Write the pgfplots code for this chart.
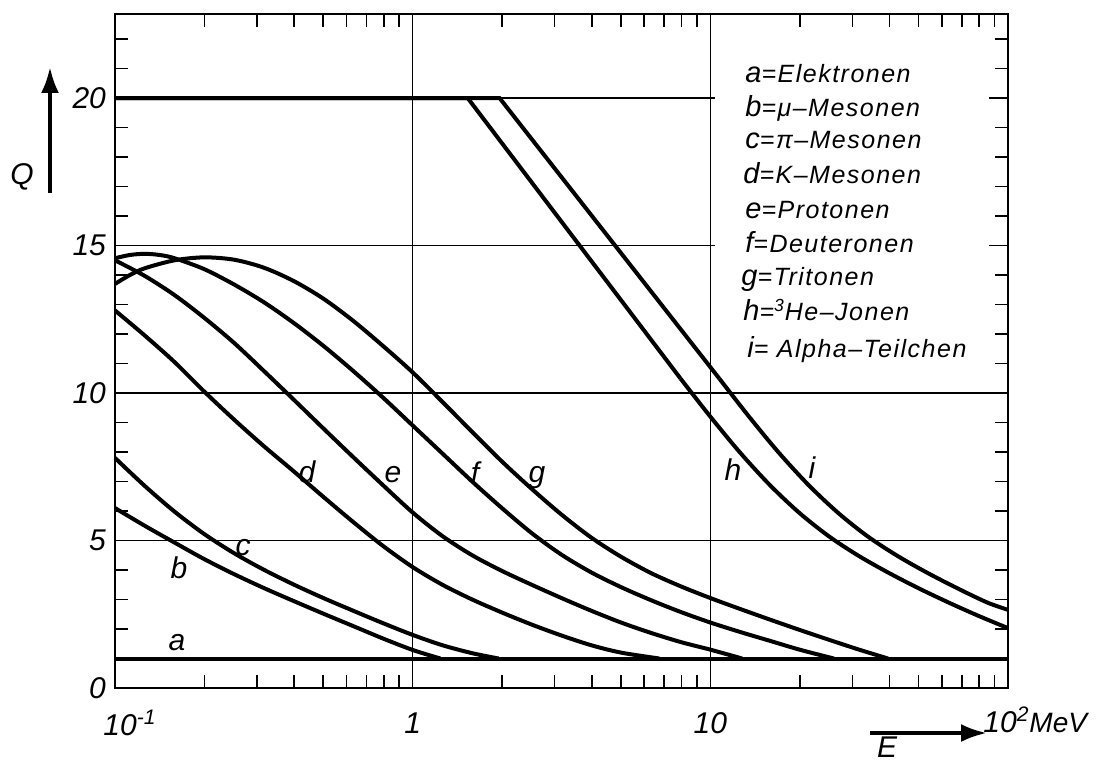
\documentclass[border=0pt]{standalone}
\usepackage{fontspec}
\setmainfont{Liberation Sans}
\newfontfamily\legfont[LetterSpace=6]{Liberation Sans}
\usepackage{pgfplots}
\pgfplotsset{compat=1.18}
\usetikzlibrary{arrows.meta}
\begin{document}
\begin{tikzpicture}[x=1pt,y=1pt]
\begin{axis}[
  at={(0,0)}, anchor=south west,
  scale only axis,
  width=446.5pt, height=337pt,
  xmode=log, log basis x=10,
  xmin=0.1, xmax=100, ymin=0, ymax=22.85,
  xtick={0.1,1,10,100},
  xticklabels={{},1,10,{}},
  minor xtick={0.2,0.3,0.4,0.5,0.6,0.7,0.8,0.9,2,3,4,5,6,7,8,9,20,30,40,50,60,70,80,90},
  ytick={0,5,10,15,20},
  minor ytick={0,1,...,22},
  grid=major,
  major grid style={black, line width=0.6pt},
  tick align=inside,
  major tick length=6.5pt, minor tick length=6.5pt,
  every tick/.append style={black, line width=0.8pt},
  axis line style={line width=1.2pt},
  /pgf/number format/assume math mode=true,
  ticklabel style={font=\fontsize{15}{18}\selectfont\itshape},
  xticklabel style={anchor=base, yshift=-22.5pt},
  yticklabel style={anchor=east, xshift=-1pt},
]
% white area behind the key
\fill[white] (axis cs:10.4,10.7) rectangle (axis cs:86,21.7);
% a = electrons
\addplot[black, line width=2pt] coordinates {(0.1,1) (100,1)};
% b
\addplot[black, line width=2pt, smooth] coordinates {
(0.1,6.1) (0.1259,5.5) (0.1585,4.93) (0.1995,4.37) (0.2512,3.86) (0.3162,3.39) (0.3981,2.95) (0.5012,2.52) (0.631,2.1) (0.7943,1.68) (1.0,1.29) (1.239,1.0)};
% c
\addplot[black, line width=2pt, smooth] coordinates {
(0.1,7.8) (0.1259,6.85) (0.1585,5.98) (0.1995,5.22) (0.2512,4.57) (0.3162,4.01) (0.3981,3.51) (0.5012,3.05) (0.631,2.62) (0.7943,2.2) (1.0,1.8) (1.259,1.45) (1.585,1.18) (1.945,1.0)};
% d
\addplot[black, line width=2pt, smooth] coordinates {
(0.1,12.8) (0.1259,11.95) (0.1585,11.05) (0.1995,10.05) (0.2512,9.1) (0.3162,8.2) (0.3981,7.35) (0.5012,6.48) (0.631,5.63) (0.7943,4.82) (1.0,4.1) (1.259,3.5) (1.585,3.0) (1.995,2.56) (2.512,2.15) (3.162,1.78) (3.981,1.45) (5.012,1.2) (6.745,1.0)};
% e
\addplot[black, line width=2pt, smooth] coordinates {
(0.1,14.5) (0.1259,13.97) (0.1585,13.32) (0.1995,12.55) (0.2512,11.7) (0.3162,10.75) (0.3981,9.78) (0.5012,8.8) (0.631,7.83) (0.7943,6.88) (1.0,5.95) (1.259,5.15) (1.585,4.5) (1.995,3.97) (2.512,3.5) (3.162,3.05) (3.981,2.62) (5.012,2.22) (6.31,1.87) (7.943,1.56) (10,1.3) (12.79,1.0)};
% f
\addplot[black, line width=2pt, smooth] coordinates {
(0.1,14.57) (0.1122,14.68) (0.1259,14.72) (0.1413,14.68) (0.1585,14.57) (0.1995,14.2) (0.2512,13.68) (0.3162,13.08) (0.3981,12.38) (0.5012,11.6) (0.631,10.75) (0.7943,9.85) (1.0,8.9) (1.259,7.95) (1.585,7.0) (1.995,6.1) (2.512,5.25) (3.162,4.52) (3.981,3.92) (5.012,3.42) (6.31,2.98) (7.943,2.58) (10,2.22) (12.59,1.9) (15.85,1.6) (19.95,1.3) (26.0,1.0)};
% g
\addplot[black, line width=2pt, smooth] coordinates {
(0.1,13.7) (0.1122,14.0) (0.1259,14.23) (0.1585,14.5) (0.1995,14.6) (0.2512,14.52) (0.3162,14.25) (0.3981,13.8) (0.5012,13.2) (0.631,12.45) (0.7943,11.6) (1.0,10.7) (1.259,9.7) (1.585,8.68) (1.995,7.68) (2.512,6.75) (3.162,5.88) (3.981,5.1) (5.012,4.45) (6.31,3.9) (7.943,3.45) (10,3.05) (12.59,2.68) (15.85,2.32) (19.95,1.97) (25.12,1.63) (31.62,1.3) (39.54,1.0)};
% h
\addplot[black, line width=2pt] coordinates {(0.1,20) (1.531,20) (7.943,10.49)};
\addplot[black, line width=2pt, smooth] coordinates {
(7.943,10.49) (10,9.2) (12.59,7.98) (15.85,6.88) (19.95,5.93) (25.12,5.13) (31.62,4.47) (39.81,3.9) (50.12,3.38) (63.1,2.9) (79.43,2.45) (100,2.03)};
% i
\addplot[black, line width=2pt] coordinates {(0.1,20) (1.959,20) (10.72,10.49)};
\addplot[black, line width=2pt, smooth] coordinates {
(10.72,10.49) (13.49,9.2) (16.98,7.98) (21.38,6.88) (26.92,5.93) (33.88,5.13) (42.66,4.47) (53.7,3.9) (67.61,3.38) (85.11,2.9) (100,2.65)};
\end{axis}
% axis titles with arrows
\draw[line width=2pt, -{Latex[length=13pt,width=9pt]}] (-32.5,247.5) -- (-32.5,310.5);
\node[font=\fontsize{15}{15}\selectfont\itshape] at (-46.5,255.5) {Q};
\draw[line width=2pt, -{Latex[length=13pt,width=9pt]}] (377.5,-22.5) -- (436,-22.5);
\node[font=\fontsize{15}{15}\selectfont\itshape] at (386,-29.5) {E};
% end tick labels
\node[anchor=base west, inner sep=0, font=\fontsize{15}{18}\selectfont\itshape] at (-6,-23.5) {10\textsuperscript{-1}};
\node[anchor=base west, inner sep=0, font=\fontsize{15}{18}\selectfont\itshape] at (434,-22) {10\textsuperscript{2}{\fontsize{14}{14}\selectfont MeV}};
% curve letters
\begin{scope}[every node/.style={inner sep=0, font=\fontsize{15}{15}\selectfont\itshape}]
\node at (31,22.5) {a};
\node at (32,60) {b};
\node at (64,70) {c};
\node at (96,108) {d};
\node at (139,106.5) {e};
\node at (180,107.5) {f};
\node at (211,105) {g};
\node at (309,109) {h};
\node at (348.5,110) {i};
\end{scope}
% key
\begin{scope}[every node/.style={anchor=base west, inner sep=0, font=\legfont\itshape\fontsize{12.5}{14}\selectfont}]
\node at (315,302.5) {{\fontsize{14.5}{14}\selectfont a}=Elektronen};
\node at (315,285.5) {{\fontsize{14.5}{14}\selectfont b}=μ–Mesonen};
\node at (315,269.5) {{\fontsize{14.5}{14}\selectfont c}=π–Mesonen};
\node at (314,252.5) {{\fontsize{14.5}{14}\selectfont d}=K–Mesonen};
\node at (315,235) {{\fontsize{14.5}{14}\selectfont e}=Protonen};
\node at (315,218) {{\fontsize{14.5}{14}\selectfont f}=Deuteronen};
\node at (313,201.5) {{\fontsize{14.5}{14}\selectfont g}=Tritonen};
\node at (314,184) {{\fontsize{14.5}{14}\selectfont h}=\textsuperscript{3}He–Jonen};
\node at (316,165.5) {{\fontsize{14.5}{14}\selectfont i}= Alpha–Teilchen};
\end{scope}
\pgfresetboundingbox
\path (-57.5,-37) rectangle (490.5,344);
\end{tikzpicture}
\end{document}
